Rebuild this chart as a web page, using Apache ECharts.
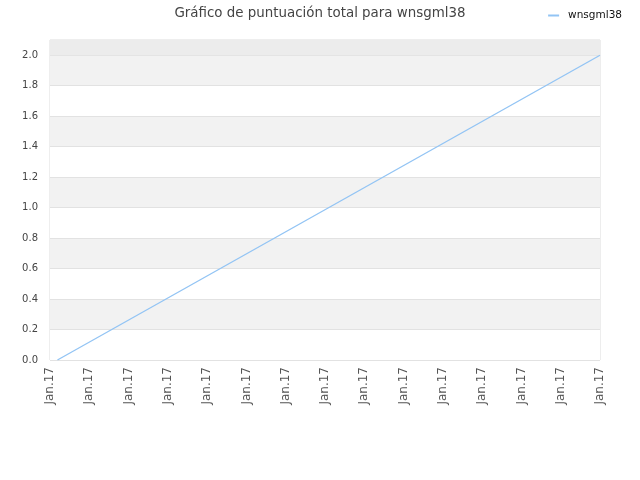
<!DOCTYPE html>
<html><head><meta charset="utf-8">
<script src="https://cdn.jsdelivr.net/npm/echarts@6/dist/echarts.min.js"></script>
<style>html,body{margin:0;padding:0;background:#fff}#c{width:640px;height:480px}</style>
</head><body><div id="c"></div>
<script>
const titleText = "Gráfico de puntuación total para wnsgml38";
const seriesName = "wnsgml38";
const tickLabels = ["Jan.17","Jan.17","Jan.17","Jan.17","Jan.17","Jan.17","Jan.17","Jan.17","Jan.17","Jan.17","Jan.17","Jan.17","Jan.17","Jan.17","Jan.17"];
const xValues = [0.19, 14];
const scoreValues = [0, 2.0];
const yTicks = [0,0.2,0.4,0.6,0.8,1.0,1.2,1.4,1.6,1.8,2.0];

const font = "DejaVu Sans";
const chart = echarts.init(document.getElementById('c'));
chart.setOption({
  animation: false,
  title: {text: titleText, left: 'center', top: 2, textStyle: {fontFamily: font, fontSize: 13.4, fontWeight: 'normal', color: '#444'}},
  legend: {right: 13, top: 5, itemWidth: 11, itemHeight: 2, itemGap: 5, icon: 'rect',
    textStyle: {fontFamily: font, fontSize: 10.5, color: '#111', padding: [0, 0, 0, 4]}, data: [seriesName]},
  grid: {left: 50, right: 40, top: 40, bottom: 120, show: true, borderColor: '#dcdcdc', borderWidth: 1, backgroundColor: 'transparent'},
  xAxis: {type: 'value', min: 0, max: tickLabels.length - 1, interval: 1,
    axisLine: {show: false}, axisTick: {show: false}, splitLine: {show: false},
    axisLabel: {rotate: 90, margin: 7, fontFamily: font, fontSize: 12, color: '#555',
      formatter: v => tickLabels[Math.round(v)] || ''}},
  yAxis: {type: 'value', min: 0, max: 2.1, interval: 0.2,
    axisLine: {show: false}, axisTick: {show: false},
    axisLabel: {margin: 12, fontFamily: font, fontSize: 10, color: '#444',
      formatter: v => yTicks.some(t => Math.abs(t - v) < 1e-9) ? v.toFixed(1) : ''},
    splitLine: {show: true, lineStyle: {color: '#e2e2e2', width: 1}},
    splitArea: {show: true, areaStyle: {color: ['#ffffff', '#f2f2f2']}}},
  series: [{name: seriesName, type: 'line', symbol: 'none',
    lineStyle: {color: '#92c4f4', width: 1.3}, itemStyle: {color: '#92c4f4'},
    data: xValues.map((x, i) => [x, scoreValues[i]]),
    markArea: {silent: true, itemStyle: {color: '#ececec'}, data: [[{yAxis: 2.0}, {yAxis: 2.1}]]}}]
});
</script></body></html>
